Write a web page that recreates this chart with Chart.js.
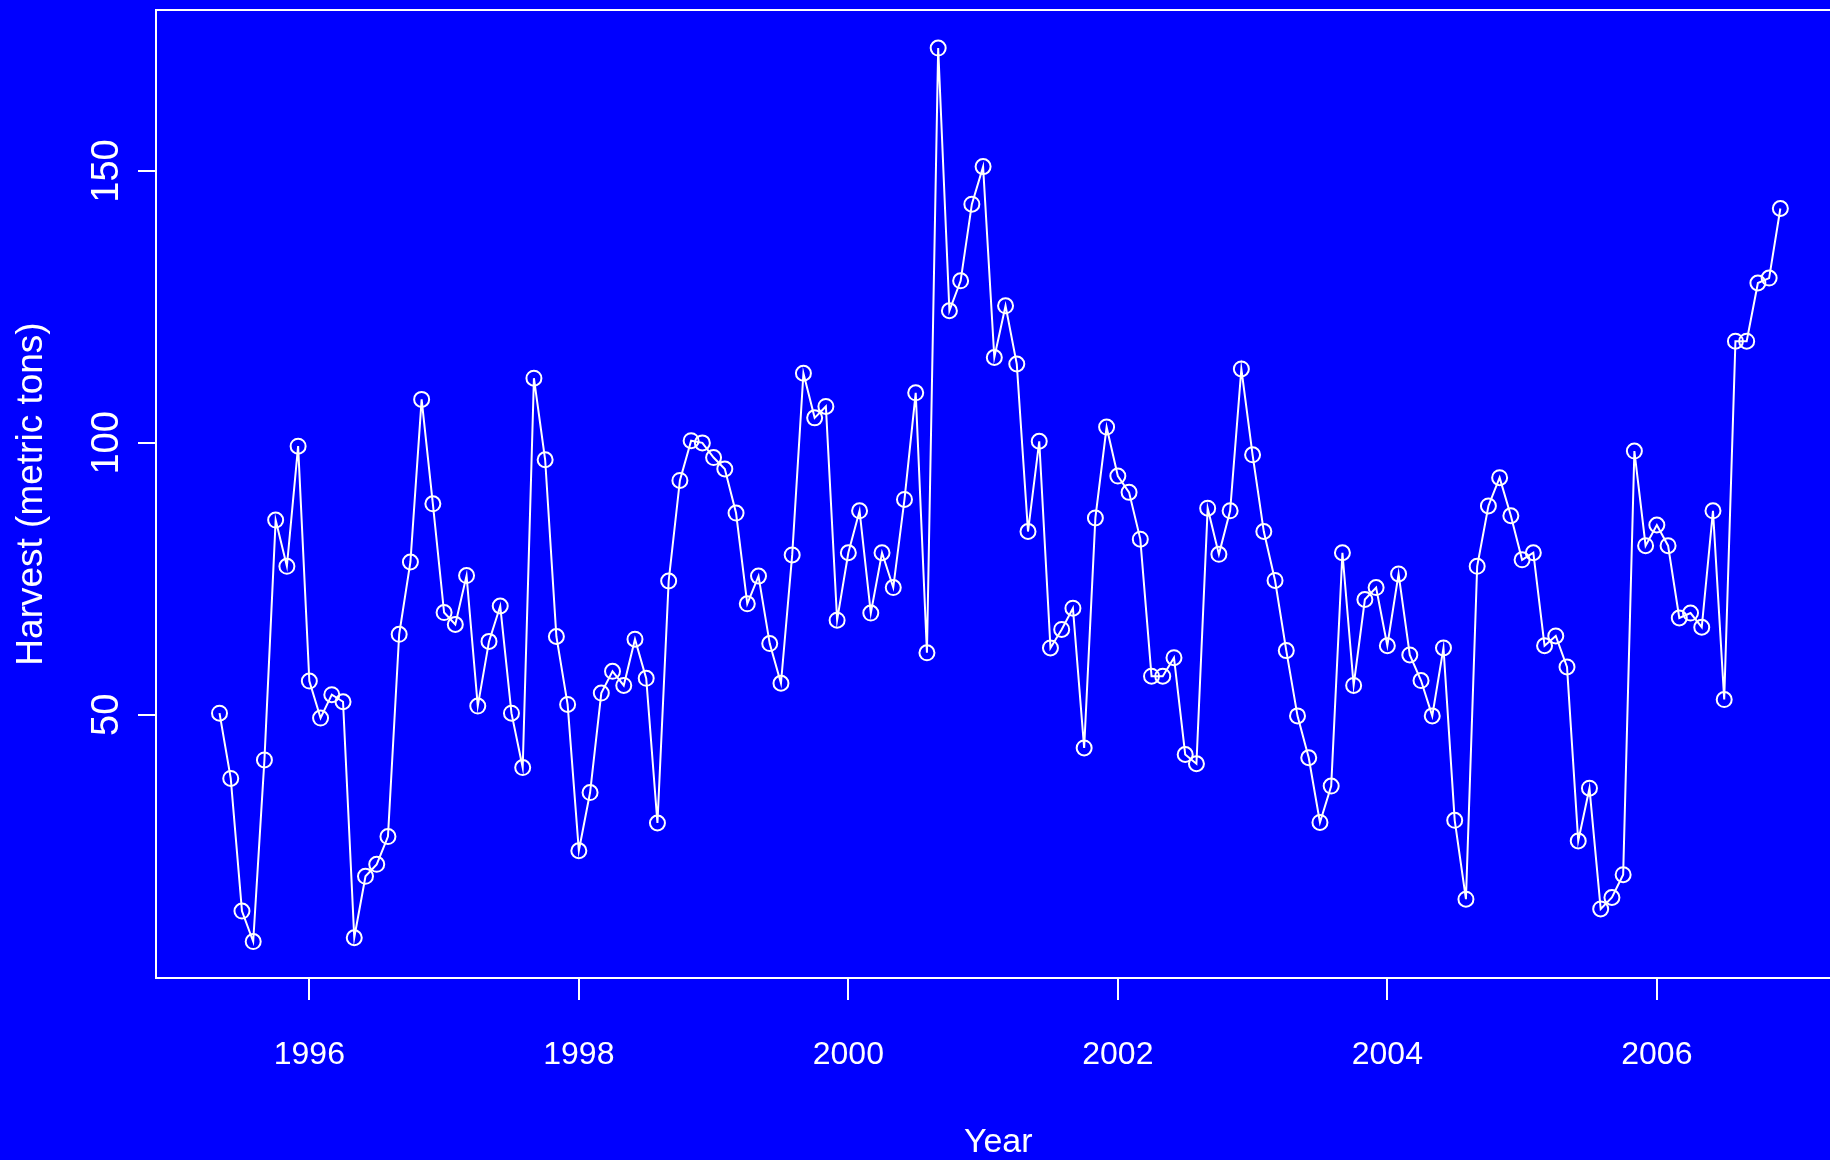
<!DOCTYPE html>
<html>
<head>
<meta charset="utf-8">
<title>Harvest</title>
<script src="https://cdn.jsdelivr.net/npm/chart.js@4.4.1/dist/chart.umd.min.js"></script>
<style>
    html, body { margin: 0; padding: 0; background: #0000ff; overflow: hidden; }
    #wrap { position: relative; width: 1850px; height: 1160px; }
</style>
</head>
<body>
<div id="wrap"><canvas id="harvestChart"></canvas></div>
<script>
// Monthly harvest, May 1995 .. Dec 2006 (metric tons)
const startYear = 1995;
const startMonth = 5;
const harvest = [
    50.3, 38.3, 13.9, 8.3, 41.7, 85.8, 77.3, 99.4,
    56.2, 49.4, 53.7, 52.4, 9.0, 20.3, 22.5, 27.6, 64.8, 78.1, 108.0, 88.8,
    68.8, 66.6, 75.6, 51.6, 63.5, 70.0, 50.3, 40.3, 111.9, 96.9, 64.4, 51.9,
    25.0, 35.7, 54.0, 58.0, 55.4, 63.9, 56.7, 30.1, 74.6, 93.1, 100.4, 100.0,
    97.3, 95.2, 87.1, 70.4, 75.5, 63.1, 55.8, 79.4, 112.8, 104.6, 106.7, 67.4,
    79.8, 87.5, 68.7, 79.8, 73.4, 89.6, 109.2, 61.4, 172.6, 124.3, 129.8, 143.9,
    150.8, 115.7, 125.2, 114.5, 83.7, 100.3, 62.3, 65.7, 69.6, 43.9, 86.2, 102.9,
    93.9, 90.9, 82.3, 57.1, 57.1, 60.5, 42.7, 41.0, 88.0, 79.5, 87.5, 113.6,
    97.8, 83.7, 74.7, 61.8, 49.8, 42.1, 30.2, 36.9, 79.8, 55.4, 71.2, 73.4,
    62.7, 75.9, 61.0, 56.3, 49.8, 62.3, 30.6, 16.1, 77.3, 88.4, 93.6, 86.6,
    78.5, 79.8, 62.7, 64.5, 58.8, 26.8, 36.5, 14.3, 16.4, 20.6, 98.5, 81.1,
    84.9, 81.1, 67.8, 68.7, 66.1, 87.5, 52.8, 118.7, 118.7, 129.4, 130.3, 143.1
];
const yearTicks = [1996, 1998, 2000, 2002, 2004, 2006];
const harvestTicks = [50, 100, 150];

const points = harvest.map((v, i) => ({ x: startYear + (startMonth - 1 + i) / 12, y: v }));

const FONT = '"Liberation Sans", Arial, Helvetica, sans-serif';
Chart.defaults.color = '#ffffff';
Chart.defaults.font.family = FONT;

// R-style box around the plot region
const plotBox = {
    id: 'plotBox',
    afterDraw(chart) {
        const a = chart.chartArea;
        const ctx = chart.ctx;
        ctx.save();
        ctx.strokeStyle = '#ffffff';
        ctx.lineWidth = 2;
        ctx.strokeRect(a.left, a.top, a.right - a.left, a.bottom - a.top);
        ctx.restore();
    }
};

new Chart(document.getElementById('harvestChart'), {
    type: 'line',
    data: {
        datasets: [{
            data: points,
            borderColor: '#ffffff',
            borderWidth: 2,
            tension: 0,
            pointRadius: 7.5,
            pointBorderWidth: 2,
            pointBorderColor: '#ffffff',
            pointBackgroundColor: 'rgba(0,0,0,0)'
        }]
    },
    options: {
        responsive: true,
        maintainAspectRatio: false,
        animation: false,
        layout: { padding: { left: 0, top: 10, right: 3, bottom: 0 } },
        plugins: {
            legend: { display: false },
            tooltip: { enabled: false }
        },
        scales: {
            x: {
                type: 'linear',
                position: 'bottom',
                min: 1994.862,
                max: 2007.363,
                afterBuildTicks: axis => { axis.ticks = yearTicks.map(v => ({ value: v })); },
                afterFit: axis => {
                    axis.height = 182;
                    axis.paddingLeft = 0;
                    axis.paddingRight = 0;
                },
                border: { display: true, color: '#ffffff', width: 2 },
                grid: {
                    drawOnChartArea: false,
                    drawTicks: true,
                    tickLength: 22,
                    color: '#ffffff',
                    lineWidth: 2
                },
                ticks: {
                    color: '#ffffff',
                    font: { size: 32 },
                    padding: 36,
                    maxRotation: 0,
                    callback: v => String(v)
                },
                title: {
                    display: true,
                    text: 'Year',
                    color: '#ffffff',
                    font: { size: 34, lineHeight: 1 },
                    padding: { top: 0, bottom: 0 }
                }
            },
            y: {
                min: 1.6,
                max: 179.6,
                afterBuildTicks: axis => { axis.ticks = harvestTicks.map(v => ({ value: v })); },
                afterFit: axis => {
                    axis.width = 156;
                    axis.paddingTop = 0;
                    axis.paddingBottom = 0;
                },
                border: { display: true, color: '#ffffff', width: 2 },
                grid: {
                    drawOnChartArea: false,
                    drawTicks: true,
                    tickLength: 18,
                    color: '#ffffff',
                    lineWidth: 2
                },
                ticks: {
                    color: '#ffffff',
                    font: { size: 38 },
                    minRotation: 90,
                    maxRotation: 90,
                    crossAlign: 'center',
                    padding: -1,
                    callback: v => String(v)
                },
                title: {
                    display: true,
                    text: 'Harvest (metric tons)',
                    color: '#ffffff',
                    font: { size: 37 },
                    padding: { top: 10, bottom: 0 }
                }
            }
        }
    },
    plugins: [plotBox]
});
</script>
</body>
</html>
